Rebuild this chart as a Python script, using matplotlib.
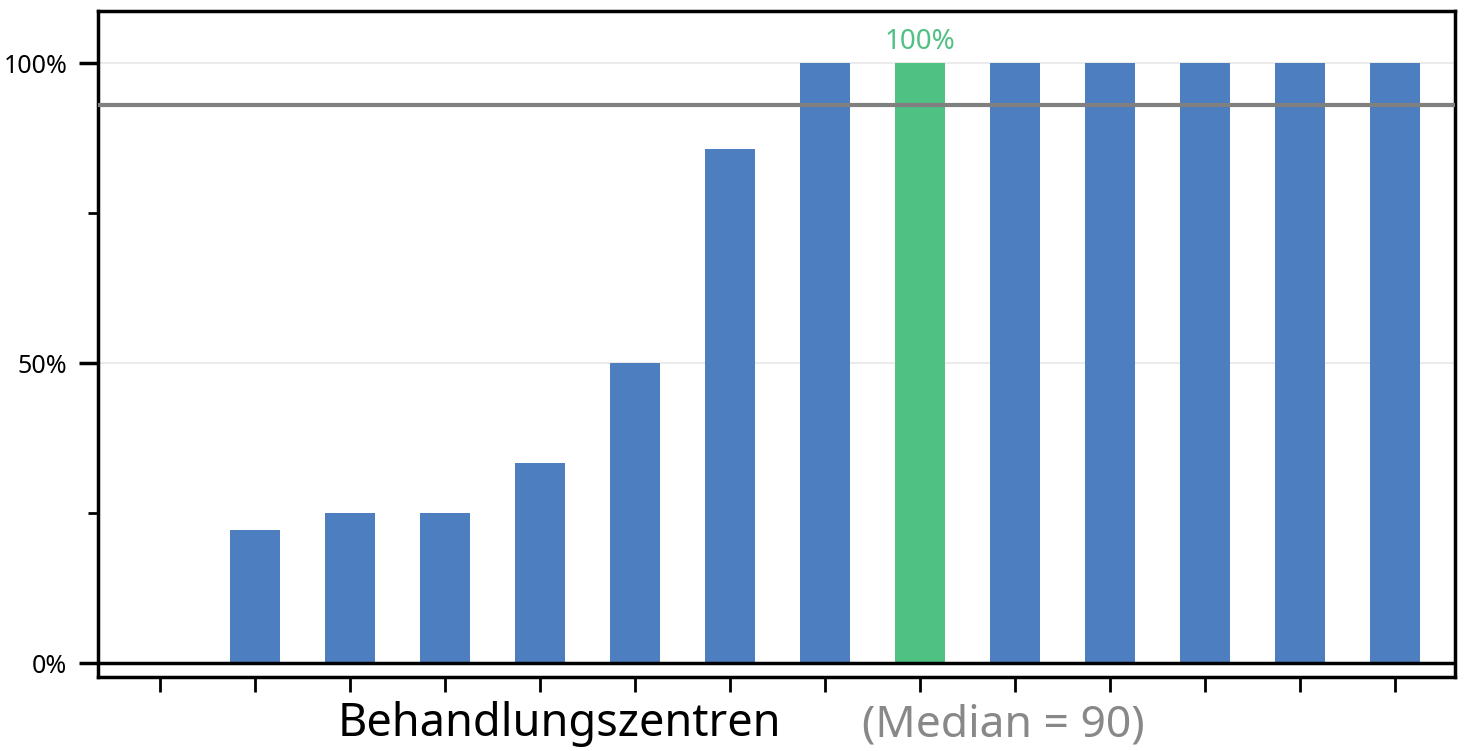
import matplotlib.pyplot as plt
from matplotlib.ticker import FixedLocator

plt.rcParams['font.family'] = ['Noto Sans', 'DejaVu Sans']

# share per treatment centre (sorted), highlighted centre in green
centres = list(range(14))
values = [0, 2/9, 0.25, 0.25, 1/3, 0.5, 6/7, 1, 1, 1, 1, 1, 1, 1]
highlight = 8
reference_line = 0.93
median_n = 90

blue = '#4d7ec0'
green = '#4fc182'
colors = [green if i == highlight else blue for i in centres]

fig = plt.figure(figsize=(14.66, 7.51), dpi=100)
ax = fig.add_axes([98/1466, 74/751, 1357/1466, 666/751])

ax.bar(centres, values, width=0.52, color=colors, zorder=2)
ax.axhline(reference_line, color='#808080', lw=3, zorder=3)
ax.axhline(0, color='black', lw=2.5, zorder=4)
for g in (0.5, 1.0):
    ax.axhline(g, color='#ebebeb', lw=1.5, zorder=1)

ax.text(highlight, values[highlight] + 0.012, '100%', color=green,
        ha='center', va='bottom', fontsize=20)

ax.set_xlim(-0.65, 13.63)
ax.set_ylim(-0.023, 1.087)
ax.set_xticks(centres)
ax.set_xticklabels([])
ax.set_yticks([0, 0.5, 1.0])
ax.set_yticklabels(['0%', '50%', '100%'], fontsize=18)
ax.yaxis.set_minor_locator(FixedLocator([0.25, 0.75]))
ax.tick_params(axis='y', which='major', length=14, width=2.5, pad=8)
ax.tick_params(axis='y', which='minor', length=7, width=2)
ax.tick_params(axis='x', length=11, width=2)
for s in ax.spines.values():
    s.set_linewidth(2.5)

fig.text(559/1466, 1 - 724/751, 'Behandlungszentren', ha='center', va='center', fontsize=32.5)
fig.text(1003/1466, 1 - 726/751, '(Median = %d)' % median_n, ha='center', va='center',
         fontsize=32, color='#888888')

fig.savefig('out.png', dpi=100)
